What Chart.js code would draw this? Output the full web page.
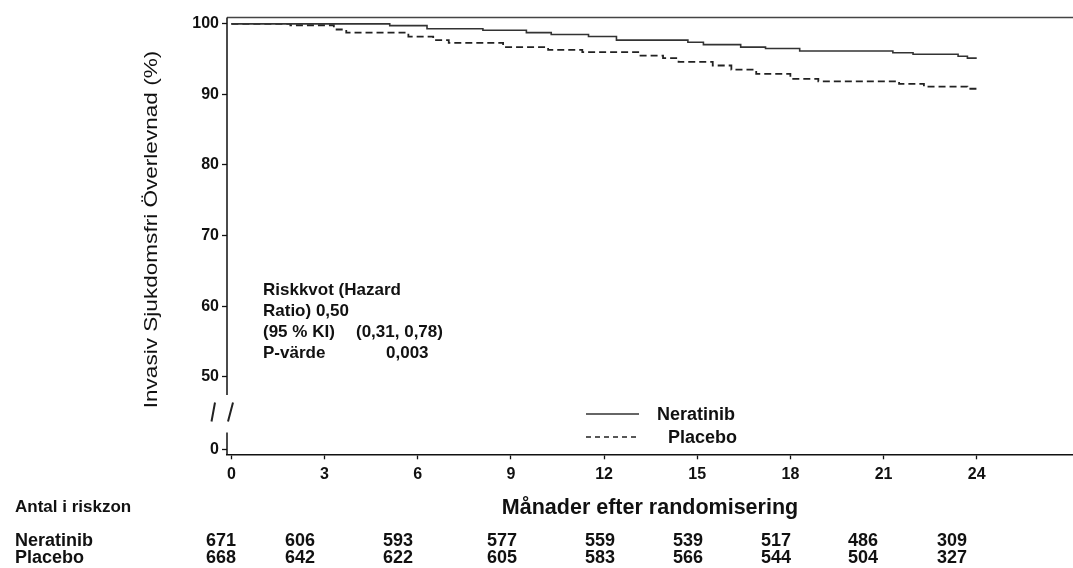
<!DOCTYPE html>
<html>
<head>
<meta charset="utf-8">
<script src="https://cdn.jsdelivr.net/npm/chart.js@4.4.1/dist/chart.umd.min.js"></script>
<style>
  html, body { margin: 0; padding: 0; background: #fff; }
  #wrap { width: 1073px; height: 568px; position: relative; }
</style>
</head>
<body>
<div id="wrap"><canvas id="kmChart"></canvas></div>
<script>
// x ticks (months) and y tick labels
const months = [0, 3, 6, 9, 12, 15, 18, 21, 24];
const yTickLabels = [0, 50, 60, 70, 80, 90, 100];

// Kaplan-Meier steps
const neratinibTime = [0, 5.1, 6.3, 8.1, 9.5, 10.3, 11.5, 12.4, 14.7, 15.2, 16.4, 17.2, 18.3, 21.3, 21.95, 23.4, 23.7, 24.0];
const neratinibSurv = [100, 99.75, 99.3, 99.1, 98.75, 98.5, 98.2, 97.7, 97.4, 97.05, 96.7, 96.5, 96.15, 95.9, 95.7, 95.4, 95.15, 95.15];
const placeboTime = [0, 1.9, 3.3, 3.7, 5.7, 6.5, 7.0, 8.75, 10.2, 11.3, 13.1, 13.9, 14.4, 15.5, 16.1, 16.9, 18.0, 18.9, 21.5, 22.3, 23.7, 24.0];
const placeboSurv = [100, 99.8, 99.2, 98.75, 98.2, 97.7, 97.3, 96.7, 96.3, 96.0, 95.5, 95.15, 94.6, 94.1, 93.5, 92.9, 92.2, 91.85, 91.5, 91.1, 90.8, 90.7];

// number at risk
const riskNeratinib = [671, 606, 593, 577, 559, 539, 517, 486, 309];
const riskPlacebo = [668, 642, 622, 605, 583, 566, 544, 504, 327];

const hazardRatio = '0,50';
const ciText = '(0,31, 0,78)';
const pValue = '0,003';

// broken axis: the "0" tick sits just below the break
const ZERO_POS = 39.7;

const FONT = "'Liberation Sans', Arial, sans-serif";
const INK = '#111';

const toPoints = (t, s) => t.map((x, i) => ({ x: x, y: s[i] }));

// layout of the risk table columns (left edge of each number)
const riskColX = [206, 285, 383, 487, 585, 673, 761, 848, 937];

const extras = {
  id: 'extras',
  afterDraw(chart) {
    const { ctx, chartArea, scales } = chart;
    const y = scales.y;
    ctx.save();

    // top frame line
    ctx.strokeStyle = '#444';
    ctx.lineWidth = 1.5;
    ctx.beginPath();
    ctx.moveTo(chartArea.left, chartArea.top);
    ctx.lineTo(chartArea.right, chartArea.top);
    ctx.stroke();

    // broken y axis
    ctx.strokeStyle = '#111';
    ctx.beginPath();
    ctx.moveTo(chartArea.left, chartArea.top);
    ctx.lineTo(chartArea.left, y.getPixelForValue(47.4));
    ctx.moveTo(chartArea.left, y.getPixelForValue(42.1));
    ctx.lineTo(chartArea.left, chartArea.bottom);
    ctx.stroke();

    // break marks "/ /"
    ctx.lineWidth = 2;
    ctx.strokeStyle = '#222';
    ctx.beginPath();
    ctx.moveTo(211.5, 421.5); ctx.lineTo(215, 402.5);
    ctx.moveTo(228, 421.5); ctx.lineTo(233, 402.5);
    ctx.stroke();

    // y title (stretched along its length like the original)
    ctx.save();
    ctx.translate(152, 229.5);
    ctx.rotate(-Math.PI / 2);
    ctx.scale(1.22, 1);
    ctx.font = `18.5px ${FONT}`;
    ctx.fillStyle = INK;
    ctx.textAlign = 'center';
    ctx.textBaseline = 'middle';
    ctx.fillText('Invasiv Sjukdomsfri Överlevnad (%)', 0, 0);
    ctx.restore();

    ctx.fillStyle = INK;
    ctx.textBaseline = 'middle';
    ctx.textAlign = 'left';

    // hazard ratio box
    ctx.font = `bold 17px ${FONT}`;
    ctx.fillText('Riskkvot (Hazard', 263, 290);
    ctx.fillText('Ratio) ' + hazardRatio, 263, 311.5);
    ctx.fillText('(95 % KI)', 263, 332.5);
    ctx.fillText(ciText, 356, 332.5);
    ctx.fillText('P-värde', 263, 353);
    ctx.fillText(pValue, 386, 353);

    // legend
    const ds = chart.data.datasets;
    [[414, 657, 0], [437, 668, 1]].forEach(([ly, tx, i]) => {
      ctx.save();
      ctx.strokeStyle = ds[i].borderColor;
      ctx.lineWidth = 1.4;
      ctx.setLineDash(i === 1 ? [5, 4] : []);
      ctx.beginPath();
      ctx.moveTo(586, ly);
      ctx.lineTo(639, ly);
      ctx.stroke();
      ctx.restore();
      ctx.font = `bold 18px ${FONT}`;
      ctx.fillText(ds[i].label, tx, ly + 1);
    });

    // number at risk table
    ctx.font = `bold 17px ${FONT}`;
    ctx.fillText('Antal i riskzon', 15, 507);
    ctx.font = `bold 18px ${FONT}`;
    ctx.fillText('Neratinib', 15, 541.5);
    ctx.fillText('Placebo', 15, 558);
    riskNeratinib.forEach((n, i) => ctx.fillText(String(n), riskColX[i], 541.5));
    riskPlacebo.forEach((n, i) => ctx.fillText(String(n), riskColX[i], 558));

    ctx.restore();
  }
};

new Chart(document.getElementById('kmChart'), {
  type: 'line',
  data: {
    datasets: [
      {
        label: 'Neratinib',
        data: toPoints(neratinibTime, neratinibSurv),
        borderColor: '#333',
        borderWidth: 1.6,
        stepped: true,
        pointRadius: 0,
        fill: false
      },
      {
        label: 'Placebo',
        data: toPoints(placeboTime, placeboSurv),
        borderColor: '#222',
        borderWidth: 1.8,
        borderDash: [7, 4],
        stepped: true,
        pointRadius: 0,
        fill: false
      }
    ]
  },
  options: {
    responsive: true,
    maintainAspectRatio: false,
    animation: false,
    layout: { padding: { top: 17.5, right: 0, bottom: 0, left: 0 } },
    plugins: {
      legend: { display: false },
      tooltip: { enabled: false }
    },
    scales: {
      x: {
        type: 'linear',
        min: -0.14,
        max: 27.1,
        afterBuildTicks: (scale) => { scale.ticks = months.map(v => ({ value: v })); },
        afterFit: (scale) => { scale.height = 113.7; },
        ticks: {
          color: INK,
          padding: 6,
          font: { family: FONT, size: 16, weight: 'bold' },
          callback: (v) => String(v)
        },
        grid: { drawOnChartArea: false, drawTicks: true, tickLength: 5, tickColor: '#111', tickWidth: 1.3 },
        border: { display: true, color: '#111', width: 1.5 },
        title: {
          display: true,
          text: 'Månader efter randomisering',
          color: INK,
          font: { family: FONT, size: 21.5, weight: 'bold' },
          padding: { top: 0, bottom: 47 }
        }
      },
      y: {
        type: 'linear',
        min: 39.0,
        max: 100.9,
        afterBuildTicks: (scale) => {
          scale.ticks = yTickLabels.map(v => ({ value: v === 0 ? ZERO_POS : v }));
        },
        afterFit: (scale) => { scale.width = 227; },
        ticks: {
          color: INK,
          padding: 3,
          font: { family: FONT, size: 16, weight: 'bold' },
          callback: (v) => (v < 45 ? '0' : String(v))
        },
        grid: { drawOnChartArea: false, drawTicks: true, tickLength: 5, tickColor: '#111', tickWidth: 1.3 },
        border: { display: false }
      }
    }
  },
  plugins: [extras]
});
</script>
</body>
</html>
